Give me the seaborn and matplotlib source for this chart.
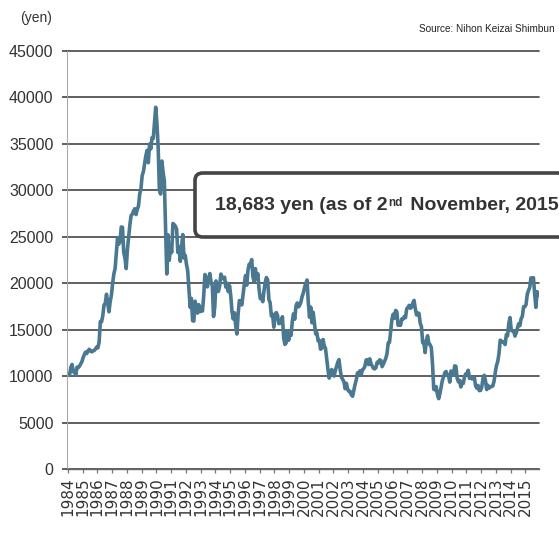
import numpy as np
import pandas as pd
import matplotlib
matplotlib.use("Agg")
import matplotlib.pyplot as plt
import seaborn as sns
from matplotlib.patches import FancyBboxPatch
from matplotlib.text import Annotation
from matplotlib import font_manager

# Nikkei 225 month-end closes (yen), Jan 1984 - Nov 2015
close_1984_1989 = [
    10250, 10100, 10950, 11250, 10450, 10550, 10100, 10950, 10900, 11050, 11300, 11542,
    11990, 12320, 12580, 12420, 12700, 12880, 12700, 12600, 12700, 12750, 12900, 13113,
    13030, 13640, 15860, 15830, 16500, 17650, 17800, 18800, 17850, 16910, 18000, 18701,
    20000, 21000, 21560, 23270, 24900, 24180, 24490, 26030, 26010, 23330, 22690, 21564,
    23620, 24900, 26260, 27260, 27420, 27770, 28000, 27370, 27920, 28300, 29580, 30159,
    31580, 31990, 32840, 33710, 34270, 32950, 34950, 34430, 35640, 35550, 37270, 38916,
]
close_1990_1999 = [
    37190, 34590, 29980, 29580, 33130, 31940, 31040, 25980, 20980, 25190, 22450, 23849,
    23290, 26410, 26290, 26110, 25790, 23290, 23900, 22340, 23920, 25220, 22690, 22984,
    22020, 21340, 19350, 17390, 18350, 15950, 15910, 18060, 17400, 16770, 17680, 16925,
    17020, 17000, 18590, 20920, 20550, 19590, 20380, 21030, 20110, 19700, 16410, 17417,
    20230, 19110, 19110, 19730, 20970, 20640, 20450, 20630, 19560, 19990, 19080, 19723,
    18650, 16950, 16140, 16810, 15440, 14520, 16680, 18120, 17910, 17650, 18740, 19868,
    20810, 19780, 21400, 22040, 21960, 22530, 20690, 20170, 21560, 20470, 21020, 19361,
    18330, 18560, 18000, 19150, 20070, 20600, 20330, 18230, 17890, 16460, 16640, 15259,
    16630, 16830, 16530, 15640, 15670, 15830, 16380, 14110, 13410, 13560, 14880, 13842,
    14500, 14370, 15840, 16700, 16110, 17530, 17860, 17440, 17600, 17940, 18560, 18934,
]
close_2000_2009 = [
    19540, 19960, 20337, 17970, 16330, 17410, 15730, 16860, 15750, 14540, 14650, 13785,
    13840, 12880, 12999, 13934, 13262, 12969, 11860, 10713, 9775, 10366, 10697, 10543,
    9997, 10588, 11025, 11493, 11764, 10622, 9878, 9619, 9383, 8640, 9216, 8579,
    8340, 8363, 7973, 7831, 8425, 9083, 9563, 10344, 10219, 10560, 10101, 10677,
    10784, 11042, 11715, 11762, 11236, 11858, 11326, 11082, 10824, 10771, 10899, 11489,
    11388, 11741, 11669, 11009, 11277, 11584, 11900, 12414, 13574, 13607, 14872, 16111,
    16650, 16205, 17060, 16906, 15467, 15505, 15457, 16141, 16128, 16399, 16274, 17226,
    17383, 17604, 17288, 17400, 17876, 18138, 17249, 16569, 16786, 16738, 15681, 15308,
    13592, 13603, 12526, 13850, 14339, 13481, 13377, 13073, 11260, 8577, 8512, 8860,
    7994, 7568, 8110, 8828, 9523, 9958, 10357, 10493, 10133, 10035, 9346, 10546,
]
close_2010_2015 = [
    10198, 10126, 11090, 11057, 9769, 9383, 9537, 8824, 9369, 9202, 9937, 10229,
    10238, 10624, 9755, 9850, 9694, 9816, 9833, 8955, 8700, 8988, 8435, 8455,
    8803, 9723, 10084, 9521, 8543, 9007, 8695, 8840, 8870, 8928, 9446, 10395,
    11139, 11559, 12398, 13861, 13775, 13677, 13668, 13389, 14456, 14328, 15662, 16291,
    14915, 14841, 14828, 14304, 14632, 15162, 15621, 15425, 16174, 16414, 17460, 17451,
    17674, 18798, 19207, 19520, 20563, 20236, 20585, 18890, 17388, 19083, 18683,
]
tick_years = list(range(1984, 2016))
y_ticks = list(range(0, 45001, 5000))

close = close_1984_1989 + close_1990_1999 + close_2000_2009 + close_2010_2015
months = pd.date_range("1984-01-01", periods=len(close), freq="MS")
df = pd.DataFrame({
    "t": months.year + (months.month - 0.5) / 12.0,
    "close": close,
})

sns.set_theme(style="white")
names = {f.name for f in font_manager.fontManager.ttflist}
narrow = "Liberation Sans Narrow" if "Liberation Sans Narrow" in names else "Liberation Sans"
plt.rcParams["font.family"] = ["DejaVu Sans"]

fig = plt.figure(figsize=(5.59, 5.38), dpi=100)
ax = fig.add_axes([67 / 559, 1 - 469 / 538, 472 / 559, (469 - 50.7) / 538])

sns.lineplot(data=df, x="t", y="close", ax=ax, color="#4a7891", lw=2.6,
             estimator=None, sort=False)

ax.set_xlim(1983.95, 2015.92)
ax.set_ylim(0, 45000)
ax.set_xlabel("")
ax.set_ylabel("")

ax.set_yticks(y_ticks)
ax.set_yticklabels([str(v) for v in y_ticks], fontfamily=narrow, fontsize=11.5,
                   color="#333333")
ax.set_xticks(tick_years)
ax.set_xticklabels([str(y) for y in tick_years], rotation=90, fontsize=11,
                   color="#333333", fontfamily="DejaVu Sans")

ax.yaxis.grid(True, color="#444444", lw=1.2)
ax.xaxis.grid(False)
ax.set_axisbelow(True)
for gl in ax.get_ygridlines():
    gl.set_clip_on(False)

ax.tick_params(axis="y", left=True, direction="out", length=3.3, width=1.2,
               color="#444444", pad=6.5)
ax.tick_params(axis="x", bottom=True, direction="out", length=3.0, width=0.9,
               color="#777777", pad=3)

for side in ("top", "right"):
    ax.spines[side].set_visible(False)
ax.spines["left"].set_color("#aaaaaa")
ax.spines["left"].set_linewidth(0.8)
ax.spines["bottom"].set_color("#666666")
ax.spines["bottom"].set_linewidth(1.0)

# unit and source captions
fig.text(36 / 559, 1 - 18 / 538, "(yen)", fontfamily=narrow, fontsize=10,
         color="#333333", ha="center", va="center")
fig.text(555 / 559, 1 - 29 / 538, "Source: Nihon Keizai Shimbun", fontfamily=narrow,
         fontsize=7.2, color="#222222", ha="right", va="center")

# callout box with the latest close
box = FancyBboxPatch((195 / 559, 1 - 237 / 538), 420 / 559, 64 / 538,
                     boxstyle="round,pad=0,rounding_size=0.014",
                     transform=fig.transFigure, facecolor="white",
                     edgecolor="#444444", lw=2.6, zorder=5)
fig.add_artist(box)

callout_font = dict(fontfamily=narrow, fontweight="bold", color="#333333")
t1 = fig.text(215 / 559, 1 - 206 / 538, f"{close[-1]:,} yen (as of 2",
              fontsize=14, ha="left", va="center", zorder=6, **callout_font)
t2 = Annotation("nd", xy=(1, 1), xycoords=t1, xytext=(0.5, 0.5),
                textcoords="offset points", fontsize=8.5, ha="left", va="top",
                annotation_clip=False, zorder=6, **callout_font)
fig.add_artist(t2)
t3 = Annotation(" November, 2015)", xy=(1, 0), xycoords=(t2, t1),
                xytext=(1.5, 0), textcoords="offset points", fontsize=14,
                ha="left", va="bottom", annotation_clip=False, zorder=6,
                **callout_font)
fig.add_artist(t3)

fig.savefig("out.png", dpi=100, facecolor="white")
